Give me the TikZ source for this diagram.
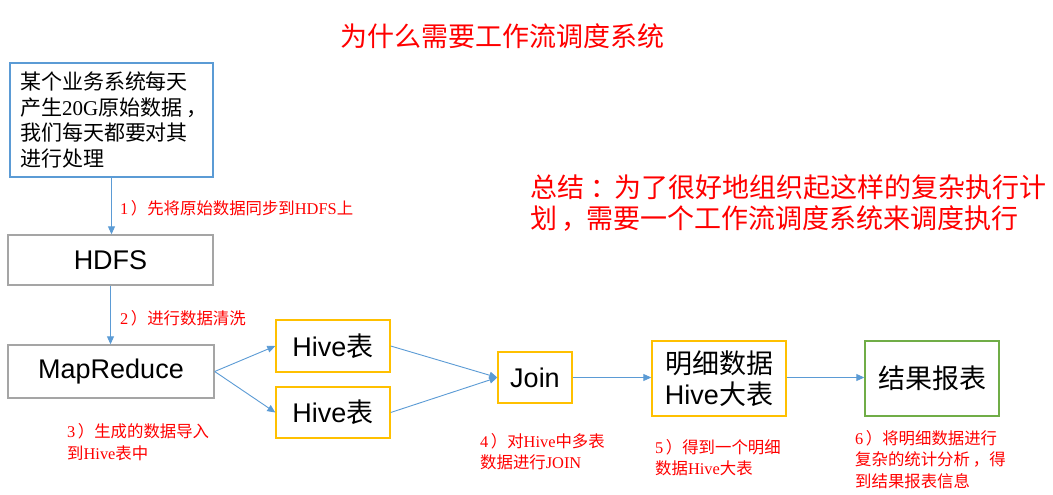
\documentclass[tikz,border=0pt]{standalone}
\usepackage{fontspec}
\setmainfont{Liberation Sans}
\newfontfamily\cjk{Noto Sans CJK SC}
\newfontfamily\ser{Liberation Serif}
\usetikzlibrary{arrows.meta}
\definecolor{lblue}{HTML}{5B9BD5}
\definecolor{lgray}{HTML}{A5A5A5}
\definecolor{lorange}{HTML}{FFC000}
\definecolor{lgreen}{HTML}{70AD47}
\definecolor{lred}{HTML}{FF0000}
\newcommand{\rp}{\kern2.5pt）}
\tikzset{
  boxbase/.style={draw, line width=1.4pt, inner sep=0pt, align=center, font=\fontsize{27}{31}\selectfont},
  graybox/.style={boxbase, draw=lgray},
  orangebox/.style={boxbase, draw=lorange},
  greenbox/.style={boxbase, draw=lgreen},
  arr/.style={draw=lblue, line width=0.9pt, -{Triangle[length=8pt,width=7pt]}},
  lbl/.style={text=lred, inner sep=0pt, align=left, anchor=west, font=\cjk\fontsize{16.4}{21.3}\selectfont},
  bigred/.style={text=lred, inner sep=0pt, font=\cjk\fontsize{27}{31}\selectfont}
}
\begin{document}
\begin{tikzpicture}[x=1pt,y=-1pt]
\useasboundingbox[fill=white] (0,0) rectangle (1053,495);

\node[bigred] (title) at (502,36) {为什么需要工作流调度系统};
\node[bigred, anchor=west, align=left] (summary) at (530,203) {总结\kern6pt：\kern-3pt 为了很好地组织起这样的复杂执行计\\划\kern4pt，\kern-2pt 需要一个工作流调度系统来调度执行};

\node[draw=lblue, line width=1.4pt, minimum width=203pt, minimum height=114pt, inner xsep=10pt, inner ysep=0pt, text width=183pt, align=left, font=\cjk\fontsize{21}{25.4}\selectfont] (src) at (111.5,120) {某个业务系统每天\\产生{\ser 20G}原始数据\kern4pt，\\我们每天都要对其\\进行处理};

\node[graybox, minimum width=205pt, minimum height=50pt] (hdfs) at (110.5,260) {HDFS};
\node[graybox, minimum width=206pt, minimum height=53pt] (mr) at (111,371.5) {MapReduce};
\node[orangebox, minimum width=114pt, minimum height=52pt] (hive1) at (333,346) {Hive{\cjk 表}};
\node[orangebox, minimum width=114pt, minimum height=51pt] (hive2) at (333,412.5) {Hive{\cjk 表}};
\node[orangebox, minimum width=74pt, minimum height=51pt] (join) at (535,377.5) {Join};
\node[orangebox, minimum width=134pt, minimum height=75pt] (big) at (719,378.5) {{\cjk 明细数据}\\Hive{\cjk 大表}};
\node[greenbox, minimum width=134pt, minimum height=75pt, font=\cjk\fontsize{27}{31}\selectfont] (res) at (932,378.5) {结果报表};

\draw[arr] (src.south) -- (src.south |- hdfs.north);
\draw[arr] (hdfs.south) -- (hdfs.south |- mr.north);
\draw[arr] (mr.east) -- (hive1.west);
\draw[arr] (mr.east) -- (hive2.west);
\draw[arr] (hive1.east) -- (join.west);
\draw[arr] (hive2.east) -- (join.west);
\draw[arr] (join.east) -- (big.west |- join.east);
\draw[arr] (big.east |- join.east) -- (res.west |- join.east);

\node[lbl] (l1) at (120,208) {{\ser 1}\rp 先将原始数据同步到{\ser HDFS}上};
\node[lbl] (l2) at (120,318) {{\ser 2}\rp 进行数据清洗};
\node[lbl] (l3) at (67,442) {{\ser 3}\rp 生成的数据导入\\到{\ser Hive}表中};
\node[lbl] (l4) at (480,452) {{\ser 4}\rp 对{\ser Hive}中多表\\数据进行{\ser JOIN}};
\node[lbl] (l5) at (655,457.5) {{\ser 5}\rp 得到一个明细\\数据{\ser Hive}大表};
\node[lbl] (l6) at (855,459.5) {{\ser 6}\rp 将明细数据进行\\复杂的统计分析\kern3pt，得\\到结果报表信息};
\end{tikzpicture}
\end{document}
